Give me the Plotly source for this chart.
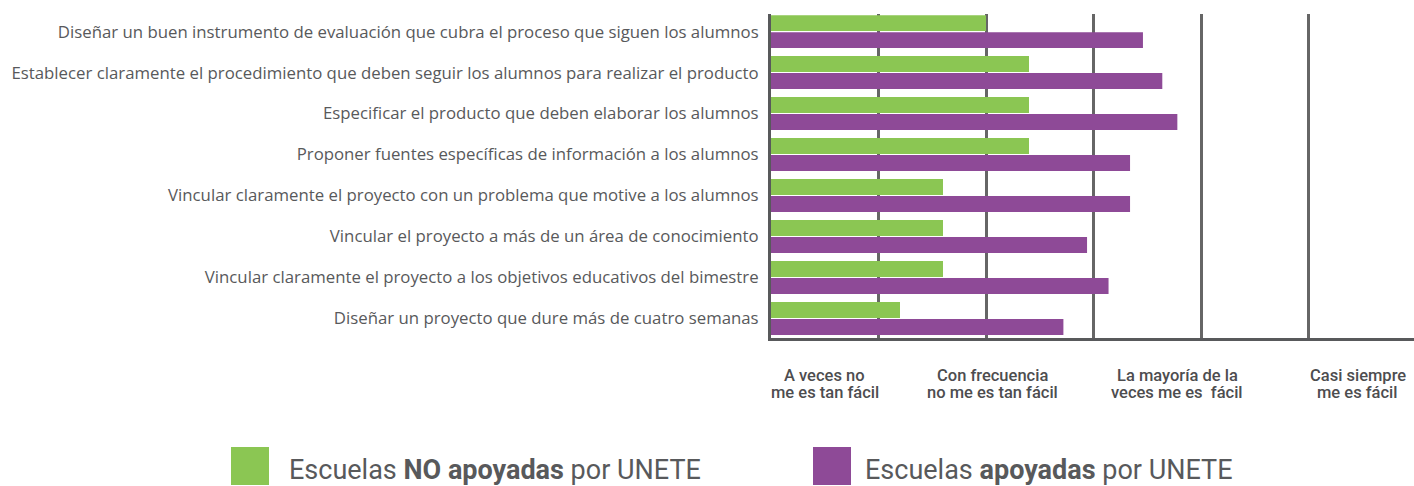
import plotly.graph_objects as go

categories = [
    "Diseñar un buen instrumento de evaluación que cubra el proceso que siguen los alumnos",
    "Establecer claramente el procedimiento que deben seguir los alumnos para realizar el producto",
    "Especificar el producto que deben elaborar los alumnos",
    "Proponer fuentes específicas de información a los alumnos",
    "Vincular claramente el proyecto con un problema que motive a los alumnos",
    "Vincular el proyecto a más de un área de conocimiento",
    "Vincular claramente el proyecto a los objetivos educativos del bimestre",
    "Diseñar un proyecto que dure más de cuatro semanas",
]
no_apoyadas = [2.00, 2.20, 2.20, 2.20, 1.80, 1.80, 1.80, 1.60]
apoyadas = [2.73, 2.82, 2.89, 2.67, 2.67, 2.47, 2.57, 2.36]
scale_labels = [
    ["A veces no", "me es tan fácil"],
    ["Con frecuencia", "no me es tan fácil"],
    ["La mayoría de la", "veces me es  fácil"],
    ["Casi siempre", "me es fácil"],
]
scale_label_pos = [1.25, 2.03, 2.89, 3.73]
legend_names = ["Escuelas <b>NO apoyadas</b> por UNETE", "Escuelas <b>apoyadas</b> por UNETE"]

GREEN = "#8BC653"
PURPLE = "#8E4A97"
TEXT = "#58595B"

W, H = 1414, 486
ML, MR, MT, MB = 771, 0, 14, 148
PW = W - ML - MR
PH = H - MT - MB
AXIS_MIN = 1.0
UNIT_PX = 215.0


def px_x(px):
    return (px - ML) / PW


def px_y(py):
    return (H - MB - py) / PH


fig = go.Figure()
fig.add_trace(go.Bar(y=categories, x=[v - AXIS_MIN for v in no_apoyadas], base=AXIS_MIN,
                     orientation="h", marker=dict(color=GREEN, line=dict(width=0)),
                     name="Escuelas NO apoyadas por UNETE",
                     customdata=no_apoyadas, hovertemplate="%{y}: %{customdata}<extra></extra>"))
fig.add_trace(go.Bar(y=categories, x=[v - AXIS_MIN for v in apoyadas], base=AXIS_MIN,
                     orientation="h", marker=dict(color=PURPLE, line=dict(width=0)),
                     name="Escuelas apoyadas por UNETE",
                     customdata=apoyadas, hovertemplate="%{y}: %{customdata}<extra></extra>"))

annotations = []
for lines, pos in zip(scale_labels, scale_label_pos):
    for line, cy in zip(lines, [375, 392]):
        annotations.append(dict(x=pos, y=px_y(cy), xref="x", yref="paper", text=line,
                                showarrow=False, xanchor="center", yanchor="middle",
                                font=dict(family="Roboto", size=16.5, color="#4D4D4F", weight=500)))

shapes = []
for (x0, x1), col, name, tx in [((231, 269), GREEN, legend_names[0], 287),
                                ((813, 851), PURPLE, legend_names[1], 863)]:
    shapes.append(dict(type="rect", xref="paper", yref="paper", x0=px_x(x0), x1=px_x(x1),
                       y0=px_y(485), y1=px_y(447), fillcolor=col, line=dict(width=0)))
    annotations.append(dict(x=px_x(tx), y=px_y(470), xref="paper", yref="paper", text=name,
                            showarrow=False, xanchor="left", yanchor="middle",
                            font=dict(family="Roboto", size=27, color=TEXT)))

fig.update_layout(
    width=W, height=H,
    margin=dict(l=ML, r=MR, t=MT, b=MB, pad=0),
    paper_bgcolor="white", plot_bgcolor="white",
    barmode="group", bargap=0.17, bargroupgap=0.06,
    showlegend=False,
    annotations=annotations, shapes=shapes,
    xaxis=dict(range=[AXIS_MIN, AXIS_MIN + PW / UNIT_PX], dtick=0.5, tick0=AXIS_MIN, showgrid=True,
               gridcolor="#666666", gridwidth=2.5, showticklabels=False, ticks="",
               zeroline=False, showline=True, linecolor="#58595B", linewidth=3),
    yaxis=dict(range=[7.475, -0.43], showline=True, linecolor="#58595B", linewidth=3,
               ticks="outside", ticklen=6, tickcolor="rgba(0,0,0,0)",
               tickfont=dict(family="Open Sans", size=16.8, color=TEXT), showgrid=False),
)

fig.write_html("out.html", config={"displayModeBar": False},
               post_script="document.body.style.margin='0';document.body.style.overflow='hidden';")
